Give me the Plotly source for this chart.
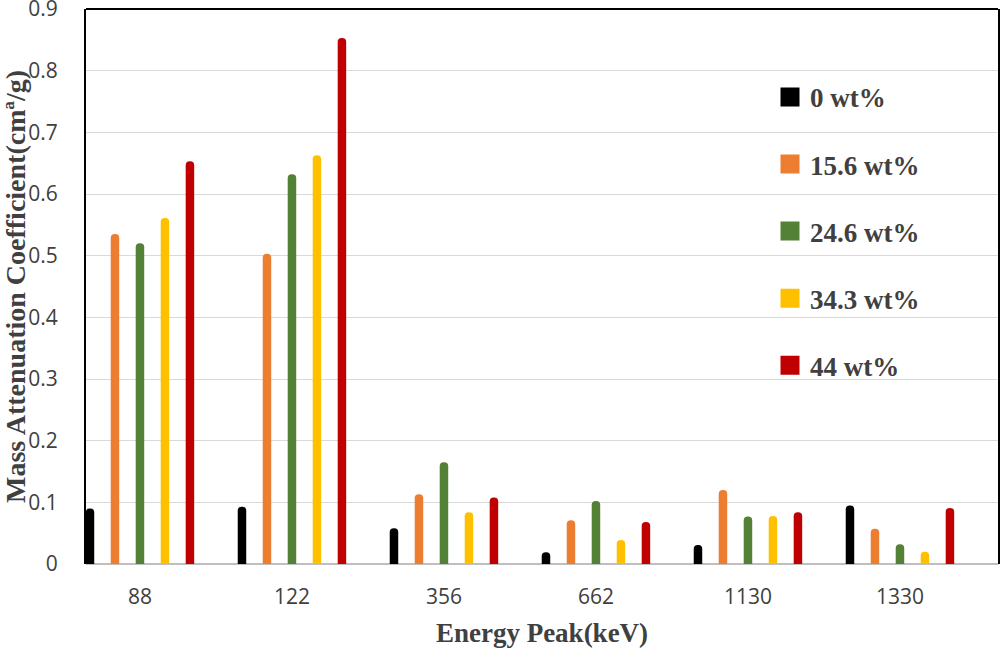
import plotly.graph_objects as go

categories = ["88", "122", "356", "662", "1130", "1330"]
series_names = ["0 wt%", "15.6 wt%", "24.6 wt%", "34.3 wt%", "44 wt%"]
s0 = [0.090, 0.093, 0.058, 0.019, 0.031, 0.095]
s15 = [0.535, 0.503, 0.113, 0.071, 0.120, 0.057]
s24 = [0.520, 0.632, 0.165, 0.102, 0.077, 0.032]
s34 = [0.561, 0.663, 0.084, 0.039, 0.078, 0.020]
s44 = [0.653, 0.853, 0.108, 0.068, 0.084, 0.091]
colors = ["#000000", "#ED7D31", "#538135", "#FFC000", "#C00000"]
yticks = [0, 0.1, 0.2, 0.3, 0.4, 0.5, 0.6, 0.7, 0.8, 0.9]

fig = go.Figure()
for i, (name, vals) in enumerate(zip(series_names, [s0, s15, s24, s34, s44])):
    fig.add_trace(go.Bar(
        x=list(range(len(categories))), y=vals, name=name,
        marker=dict(color=colors[i], cornerradius=4, line=dict(width=0)),
        showlegend=False,
    ))
# legend entries with larger square swatches
for i, name in enumerate(series_names):
    fig.add_trace(go.Scatter(
        x=[None], y=[None], mode="markers", name=name,
        marker=dict(symbol="square", size=16, color=colors[i],
                    line=dict(color=colors[i], width=3)),
        legendgroup=str(i), showlegend=True,
    ))

fig.update_layout(
    width=1000, height=649,
    margin=dict(l=86, r=2, t=9, b=85),
    paper_bgcolor="white", plot_bgcolor="white",
    barmode="group", bargap=0.178, bargroupgap=0.66,
    font=dict(family="Open Sans", color="#404040"),
    legend=dict(
        x=0.75, y=0.885, xanchor="left", yanchor="top",
        font=dict(family="Liberation Serif", size=27, color="#404040", weight="bold"),
        traceorder="grouped", tracegroupgap=29, itemsizing="trace", itemwidth=30,
        bgcolor="rgba(0,0,0,0)",
    ),
    xaxis=dict(
        tickmode="array", tickvals=list(range(len(categories))), ticktext=categories,
        range=[-0.355, 5.645], showgrid=False, zeroline=False,
        showline=False, ticks="", automargin=False, ticklabelstandoff=18,
        tickfont=dict(family="Open Sans", size=21, color="#404040"),
        title=dict(text="Energy Peak(keV)", standoff=14,
                   font=dict(family="Liberation Serif", size=27, color="#404040", weight="bold")),
    ),
    yaxis=dict(
        range=[0, 0.9001], tickvals=yticks, ticktext=[f"{v:g}" for v in yticks],
        showgrid=True, gridcolor="#D9D9D9", gridwidth=1,
        zeroline=True, zerolinecolor="#BFBFBF", zerolinewidth=2,
        showline=True, linecolor="#000000", linewidth=2, mirror=True,
        ticks="", ticklabelstandoff=22, automargin=False, ticklabeloverflow="allow",
        tickfont=dict(family="Open Sans", size=21, color="#404040"),
        title=dict(text="Mass Attenuation Coefficient(cmª/g)", standoff=8,
                   font=dict(family="Liberation Serif", size=28, color="#404040", weight="bold")),
    ),
    shapes=[dict(type="line", xref="paper", yref="paper", x0=0, x1=1, y0=1, y1=1,
                 line=dict(color="#000000", width=2))],
)

fig.write_html("out.html", config={"displayModeBar": False},
               post_script="document.body.style.margin='0';document.body.style.overflow='hidden';")
